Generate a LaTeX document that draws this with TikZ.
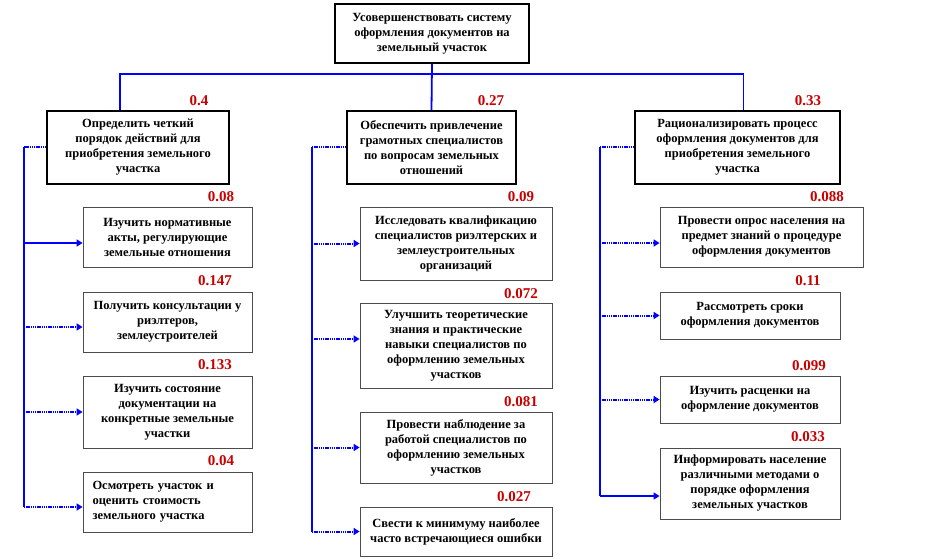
\documentclass[tikz,border=0pt]{standalone}
\usepackage{fontspec}
\setmainfont{Liberation Serif}
\usetikzlibrary{arrows.meta,calc}
\definecolor{lnblue}{RGB}{0,0,255}
\definecolor{lblred}{RGB}{200,0,0}
\begin{document}
\begin{tikzpicture}[x=1pt,y=-1pt,
 goalbox/.style={draw=black, line width=1.4pt, fill=white, inner sep=0pt, align=center, font=\fontsize{12.5}{15}\selectfont\bfseries},
 taskbox/.style={draw=black!70, line width=0.8pt, fill=white, inner sep=0pt, align=center, font=\fontsize{12.5}{15}\selectfont\bfseries},
 weight/.style={text=lblred, font=\fontsize{15}{15}\selectfont\bfseries, inner sep=0pt},
 solidln/.style={draw=lnblue, line width=1.8pt},
 dotln/.style={draw=lnblue, line width=2pt, dash pattern=on 1.4pt off 0.8pt},
 tip/.style={-{Triangle[length=6pt,width=7pt]}},
]
\useasboundingbox (0,0) rectangle (948,559);
\fill[white] (0,0) rectangle (948,559);

% goal
\node[goalbox, minimum width=194pt, minimum height=59pt] (top) at (432,33.5)
 {Усовершенствовать систему\\оформления документов на\\земельный участок};

% level 1
\node[goalbox, minimum width=182pt, minimum height=73pt] (L1) at (138,147.5)
 {Определить четкий\\порядок действий для\\приобретения земельного\\участка};
\node[goalbox, minimum width=169pt, minimum height=73pt] (M1) at (431.5,147.5)
 {Обеспечить привлечение\\грамотных специалистов\\по вопросам земельных\\отношений};
\node[goalbox, minimum width=205pt, minimum height=73pt] (R1) at (737.5,147.5)
 {Рационализировать процесс\\оформления документов для\\приобретения земельного\\участка};

% left children
\node[taskbox, minimum width=169pt, minimum height=60pt] (c1) at (167.5,237)
 {Изучить нормативные\\акты, регулирующие\\земельные отношения};
\node[taskbox, minimum width=169pt, minimum height=60pt] (c2) at (167.5,322)
 {Получить консультации у\\риэлтеров,\\землеустроителей};
\node[taskbox, minimum width=169pt, minimum height=72pt] (c3) at (167.5,412)
 {Изучить состояние\\документации на\\конкретные земельные\\участки};
\node[taskbox, minimum width=169pt, minimum height=60pt, align=left, text width=150pt] (c4) at (167.5,502)
 {Осмотреть участок и\\оценить стоимость\\земельного участка};

% middle children
\node[taskbox, minimum width=192pt, minimum height=73pt] (m1) at (456,243.5)
 {Исследовать квалификацию\\специалистов риэлтерских и\\землеустроительных\\организаций};
\node[taskbox, minimum width=192pt, minimum height=85pt] (m2) at (456,345.5)
 {Улучшить теоретические\\знания и практические\\навыки специалистов по\\оформлению земельных\\участков};
\node[taskbox, minimum width=192pt, minimum height=71pt] (m3) at (456,447.5)
 {Провести наблюдение за\\работой специалистов по\\оформлению земельных\\участков};
\node[taskbox, minimum width=192pt, minimum height=49pt] (m4) at (456,531.5)
 {Свести к минимуму наиболее\\часто встречающиеся ошибки};

% right children
\node[taskbox, minimum width=203pt, minimum height=60pt] (r1) at (761.5,237)
 {Провести опрос населения на\\предмет знаний о процедуре\\оформления документов};
\node[taskbox, minimum width=180pt, minimum height=47pt] (r2) at (750,315.5)
 {Рассмотреть сроки\\оформления документов};
\node[taskbox, minimum width=180pt, minimum height=47pt] (r3) at (750,399.5)
 {Изучить расценки на\\оформление документов};
\node[taskbox, minimum width=180pt, minimum height=71pt] (r4) at (750,483.5)
 {Информировать население\\различными методами о\\порядке оформления\\земельных участков};

% weights
\node[weight] (wL1) at (199,101) {0.4};
\node[weight] (wM1) at (491,101) {0.27};
\node[weight] (wR1) at (808,101) {0.33};
\node[weight] (wc1) at (221,197) {0.08};
\node[weight] (wc2) at (215,281) {0.147};
\node[weight] (wc3) at (215,365) {0.133};
\node[weight] (wc4) at (221,461) {0.04};
\node[weight] (wm1) at (521,197) {0.09};
\node[weight] (wm2) at (521,294) {0.072};
\node[weight] (wm3) at (521,402) {0.081};
\node[weight] (wm4) at (514,497) {0.027};
\node[weight] (wr1) at (827,197) {0.088};
\node[weight] (wr2) at (808,281) {0.11};
\node[weight] (wr3) at (809,366) {0.099};
\node[weight] (wr4) at (808,437) {0.033};

% top connectors
\coordinate (hl) at ($(L1.north)+(-18,-36)$);
\draw[solidln] (top.south) -- (M1.north);
\draw[solidln] ($(L1.north)+(-18,0)$) -- (hl) -| ($(R1.north)+(6,0)$);

% arrow ends
\coordinate (a1) at ($(c1.west)+(0,6)$);
\coordinate (a2) at ($(c2.west)+(0,5)$);
\coordinate (a3) at (c3.west);
\coordinate (a4) at ($(c4.west)+(0,5)$);
\coordinate (b1) at (m1.west);
\coordinate (b2) at ($(m2.west)+(0,-6.5)$);
\coordinate (b3) at (m3.west);
\coordinate (b4) at (m4.west);
\coordinate (e1) at ($(r1.west)+(0,6)$);
\coordinate (e2) at (r2.west);
\coordinate (e3) at (r3.west);
\coordinate (e4) at ($(r4.west)+(0,12.5)$);

% trunks
\coordinate (lt) at (24,147.5);
\coordinate (mt) at (312,147.5);
\coordinate (rt) at (600,147.5);
\draw[dotln] (L1.west) -- (lt);
\draw[dotln] (M1.west) -- (mt);
\draw[dotln] (R1.west) -- (rt);
\draw[solidln] (lt) -- (lt |- a4);
\draw[solidln] (mt) -- (mt |- b4);
\draw[solidln] (rt) -- (rt |- e4);

% branch arrows
\draw[solidln,tip] (lt |- a1) -- (a1);
\draw[dotln,tip] (lt |- a2) -- (a2);
\draw[dotln,tip] (lt |- a3) -- (a3);
\draw[dotln,tip] (lt |- a4) -- (a4);
\draw[dotln,tip] (mt |- b1) -- (b1);
\draw[dotln,tip] (mt |- b2) -- (b2);
\draw[dotln,tip] (mt |- b3) -- (b3);
\draw[dotln,tip] (mt |- b4) -- (b4);
\draw[dotln,tip] (rt |- e1) -- (e1);
\draw[dotln,tip] (rt |- e2) -- (e2);
\draw[dotln,tip] (rt |- e3) -- (e3);
\draw[solidln,tip] (rt |- e4) -- (e4);
\end{tikzpicture}
\end{document}
